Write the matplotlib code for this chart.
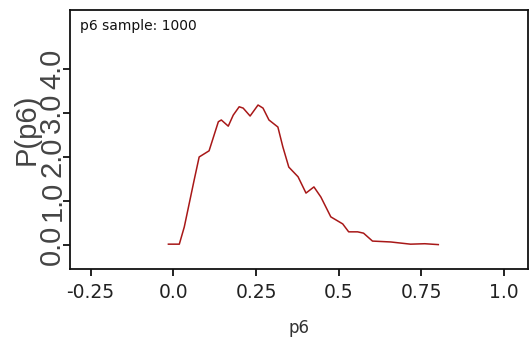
import matplotlib
matplotlib.use('Agg')
import matplotlib.pyplot as plt

plt.rcParams['font.family'] = ['DejaVu Sans']

# значения (плотность p6)
p6_x = [-0.015, 0.018, 0.033, 0.063, 0.078, 0.108, 0.136, 0.145, 0.166, 0.181,
        0.199, 0.211, 0.232, 0.256, 0.271, 0.289, 0.316, 0.331, 0.349, 0.377,
        0.401, 0.425, 0.446, 0.476, 0.512, 0.530, 0.557, 0.575, 0.602, 0.657,
        0.717, 0.760, 0.801]
p6_y = [0.02, 0.02, 0.41, 1.48, 2.00, 2.14, 2.80, 2.84, 2.70, 2.95,
        3.14, 3.11, 2.93, 3.18, 3.11, 2.84, 2.68, 2.23, 1.77, 1.55,
        1.18, 1.32, 1.09, 0.64, 0.48, 0.30, 0.30, 0.27, 0.09, 0.07,
        0.02, 0.03, 0.01]

x_ticks = [-0.25, 0.0, 0.25, 0.5, 0.75, 1.0]
x_labels = ['-0.25', '0.0', '0.25', '0.5', '0.75', '1.0']
y_ticks = [0, 1, 2, 3, 4]
y_labels = ['0.0', '1.0', '2.0', '3.0', '4.0']

fig = plt.figure(figsize=(5.29, 3.41), dpi=100)
ax = fig.add_axes([0.132, 0.211, 0.866, 0.760])

ax.plot(p6_x, p6_y, color='#a81818', lw=1.1)

ax.set_xlim(-0.313, 1.072)
ax.set_ylim(-0.545, 5.34)

ax.set_xticks(x_ticks)
ax.set_xticklabels(x_labels, fontsize=13.5, color='#222222')
ax.set_yticks(y_ticks)
ax.set_yticklabels(y_labels, fontsize=21, rotation=90, va='center',
                   color='#444444', family='Liberation Sans')
ax.tick_params(axis='both', direction='out', length=5, width=1.3, color='#111111')
ax.tick_params(axis='x', pad=5)
ax.tick_params(axis='y', pad=-2.5)

ax.set_xlabel('p6', fontsize=12, color='#333333', labelpad=12)
ax.set_ylabel('P(p6)', fontsize=21, color='#444444', family='Liberation Sans')
ax.yaxis.set_label_coords(-0.063, 0.54)

for s in ax.spines.values():
    s.set_linewidth(1.3)
    s.set_color('#111111')

ax.text(0.022, 0.965, 'p6 sample: 1000', transform=ax.transAxes,
        fontsize=10, color='#111111', ha='left', va='top')

fig.savefig('out.png', dpi=100)
